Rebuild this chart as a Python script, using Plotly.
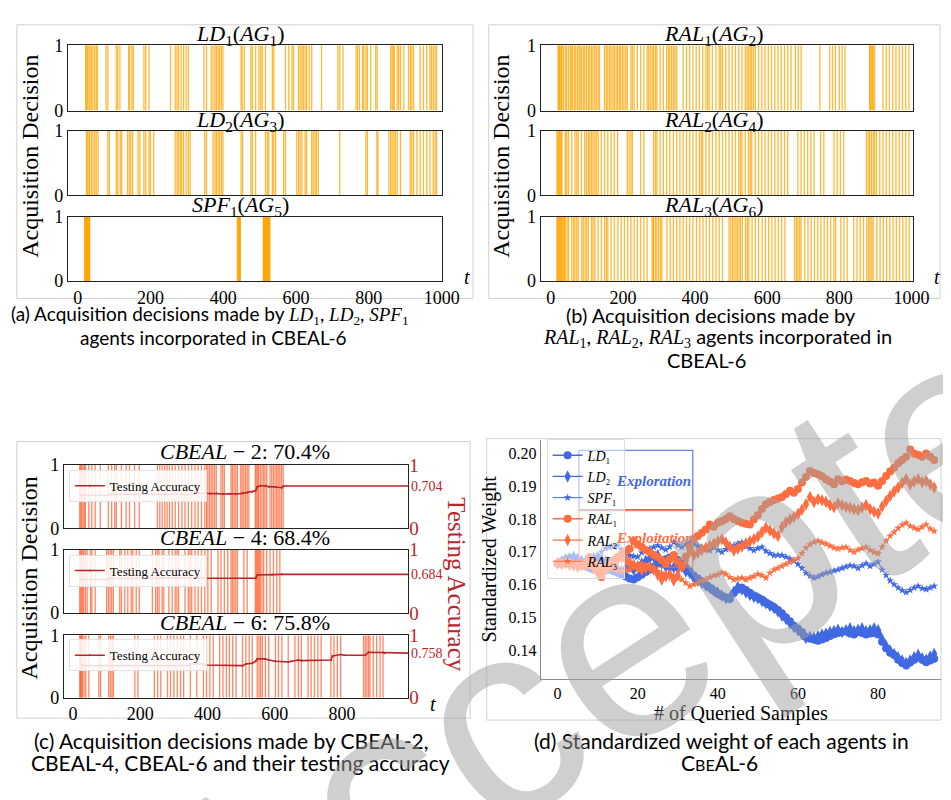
import plotly.graph_objects as go

W, H = 951, 800

# ---------------- data ----------------
# (a) acquisition decisions (t where decision == 1)
t_LD1 = [22, 24, 27, 31, 34, 38, 42, 47, 51, 54, 78, 83, 106, 110, 116, 140, 143, 149, 153, 182, 187, 196,
         255, 268, 273, 277, 284, 291, 298, 304, 347, 354, 367, 372, 377, 381, 386, 390, 395, 399, 449, 452, 458,
         476, 480, 489, 498, 503, 507, 516, 535, 539, 571, 580, 589, 593, 607, 611, 616, 620, 625, 629, 636, 643,
         670, 715, 720, 729, 765, 769, 774, 783, 786, 792, 796, 805, 819, 823, 860, 864, 867, 870, 878, 882, 887,
         896, 909, 914, 918, 923, 941, 950, 959, 968, 972, 977, 982, 986]
t_LD2 = [24, 27, 31, 33, 38, 42, 47, 51, 56, 83, 87, 106, 110, 117, 121, 137, 142, 146, 151, 166, 171, 182,
         187, 196, 200, 209, 268, 273, 277, 282, 286, 291, 298, 304, 309, 349, 354, 372, 377, 381, 386, 390, 395,
         399, 449, 453, 476, 480, 489, 516, 521, 525, 535, 539, 544, 566, 571, 602, 607, 611, 616, 625, 629, 643,
         647, 652, 656, 661, 720, 792, 796, 822, 825, 855, 860, 864, 869, 873, 878, 887, 914, 918, 923, 932, 941,
         950, 959, 968, 977, 982, 986]
t_SPF1 = [19, 20, 21, 22, 23, 24, 25, 26, 27, 28, 29, 30, 31, 32, 33,
          439, 440, 441, 442, 443, 444, 445, 446, 447,
          510, 511, 512, 513, 514, 515, 516, 517, 518, 519, 520, 521, 522, 523, 524, 525, 526, 527, 528]
# (b)
t_RAL1 = [20, 22, 24, 26, 29, 31, 35, 40, 44, 49, 54, 56, 60, 65, 69, 74, 78, 81, 85, 90, 94, 99, 104, 108,
          113, 117, 122, 126, 131, 135, 149, 154, 158, 163, 167, 172, 176, 181, 185, 190, 194, 199, 203, 208,
          212, 222, 226, 231, 240, 249, 258, 267, 271, 276, 281, 285, 290, 294, 303, 312, 321, 326, 330, 335,
          340, 344, 349, 367, 376, 385, 394, 403, 412, 421, 430, 435, 439, 448, 458, 467, 471, 476, 485, 494,
          503, 512, 521, 530, 539, 544, 548, 553, 557, 562, 567, 576, 585, 594, 603, 612, 621, 630, 639, 648,
          657, 666, 678, 686, 694, 746, 773, 781, 789, 800, 808, 816, 884, 886, 889, 892, 894, 898, 921, 930,
          939, 948, 957, 966, 975, 984, 993]
t_RAL2 = [17, 19, 22, 24, 26, 29, 31, 40, 44, 49, 58, 67, 72, 76, 85, 94, 99, 104, 108, 113, 117, 122, 126,
          131, 140, 149, 158, 167, 176, 185, 212, 217, 222, 226, 249, 258, 285, 290, 294, 303, 312, 321, 330,
          340, 349, 358, 367, 376, 385, 394, 403, 412, 417, 421, 430, 439, 448, 458, 467, 476, 485, 494, 503,
          512, 521, 526, 530, 539, 548, 553, 557, 567, 576, 585, 594, 603, 612, 621, 630, 639, 648, 657, 685,
          694, 703, 712, 721, 730, 748, 757, 785, 794, 803, 812, 875, 880, 884, 889, 894, 898, 903, 912, 921,
          930, 939, 948, 957, 966, 975, 984, 993]
t_RAL3 = [17, 19, 21, 23, 25, 27, 29, 31, 34, 36, 38, 40, 45, 49, 58, 63, 67, 72, 76, 86, 90, 95, 99, 104,
          113, 117, 122, 131, 140, 149, 154, 158, 167, 176, 186, 195, 204, 213, 222, 231, 240, 249, 258, 267,
          281, 284, 285, 290, 294, 299, 304, 308, 322, 331, 340, 349, 358, 367, 376, 385, 394, 404, 413, 422,
          431, 440, 449, 458, 467, 476, 494, 499, 504, 508, 513, 517, 522, 526, 531, 540, 545, 549, 558, 567,
          576, 586, 595, 604, 613, 622, 631, 640, 649, 676, 681, 685, 690, 694, 704, 713, 722, 731, 740, 749,
          758, 767, 776, 785, 790, 804, 813, 822, 840, 849, 858, 867, 876, 881, 885, 890, 894, 904, 913, 922,
          931, 940, 949, 958, 967, 976, 985, 994]
# (c) CBEAL decisions and testing accuracy
t_CB2 = [20, 23, 26, 30, 34, 37, 47, 56, 66, 81, 105, 115, 124, 129, 144, 158, 168, 183, 197, 251, 258, 265,
         273, 280, 287, 295, 304, 314, 324, 333, 343, 353, 363, 372, 382, 392, 397, 401, 406, 411, 416, 421,
         426, 440, 445, 450, 470, 474, 479, 484, 489, 499, 503, 508, 513, 518, 523, 542, 545, 549, 552, 557,
         562, 567, 571, 576, 586, 591, 596, 601, 606, 610, 615, 620, 625]
t_CB4 = [20, 23, 26, 29, 32, 37, 42, 52, 56, 66, 100, 105, 110, 115, 120, 139, 144, 154, 163, 173, 178, 188,
         197, 236, 246, 251, 256, 265, 270, 285, 295, 304, 309, 314, 333, 343, 348, 353, 363, 372, 382, 392,
         401, 411, 431, 440, 450, 460, 470, 474, 479, 484, 489, 508, 518, 542, 545, 548, 551, 554, 557, 562,
         567, 576, 586, 596, 606, 615]
t_CB6 = [20, 22, 24, 26, 28, 33, 38, 47, 77, 82, 106, 111, 116, 120, 184, 193, 242, 252, 261, 281, 290, 300,
         310, 320, 329, 349, 368, 388, 397, 407, 417, 436, 446, 456, 465, 475, 485, 504, 514, 524, 533, 548,
         553, 558, 563, 572, 582, 602, 611, 621, 640, 660, 670, 679, 699, 708, 718, 728, 738, 767, 776, 786,
         796, 864, 869, 874, 879, 883, 893, 903, 913, 922]
acc2_t = [20, 23, 106, 111, 252, 349, 368, 388, 407, 427, 446, 465, 485, 504, 519, 533, 543, 548, 558, 572,
          582, 602, 621, 626, 1000]
acc2_v = [0.541, 0.520, 0.525, 0.535, 0.535, 0.541, 0.556, 0.551, 0.545, 0.551, 0.541, 0.545, 0.541, 0.551,
          0.566, 0.571, 0.591, 0.657, 0.672, 0.672, 0.657, 0.652, 0.641, 0.667, 0.667]
acc4_t = [20, 23, 106, 111, 116, 183, 188, 373, 378, 388, 543, 548, 592, 622, 1000]
acc4_v = [0.538, 0.528, 0.528, 0.554, 0.544, 0.544, 0.554, 0.554, 0.559, 0.549, 0.549, 0.600, 0.605, 0.610,
          0.610]
acc6_t = [20, 28, 344, 349, 388, 393, 504, 514, 533, 543, 548, 572, 582, 602, 640, 650, 670, 679, 767, 772,
          796, 806, 869, 879, 922, 927, 1000]
acc6_v = [0.540, 0.514, 0.514, 0.541, 0.541, 0.524, 0.514, 0.541, 0.551, 0.584, 0.622, 0.622, 0.605, 0.584,
          0.573, 0.584, 0.605, 0.595, 0.605, 0.670, 0.692, 0.681, 0.681, 0.730, 0.724, 0.714, 0.714]
cbeal_names = ["2", "4", "6"]
cbeal_final_acc = ["70.4%", "68.4%", "75.8%"]
cbeal_final_val = ["0.704", "0.684", "0.758"]

# (d) standardized weights vs # of queried samples
n_q = list(range(95))
w_LD1 = [.1664, .1670, .1676, .1679, .1672, .1664, .1660, .1655, .1650, .1645, .1642, .1640, .1643, .1645, .1640,
         .1636, .1630, .1624, .1618, .1615, .1622, .1630, .1638, .1645, .1654, .1665, .1674, .1677, .1682, .1689,
         .1675, .1664, .1652, .1640, .1627, .1618, .1610, .1600, .1590, .1581, .1572, .1565, .1560, .1556, .1574,
         .1585, .1590, .1583, .1575, .1566, .1560, .1554, .1545, .1538, .1531, .1522, .1512, .1500, .1488, .1474,
         .1466, .1455, .1440, .1435, .1432, .1428, .1432, .1437, .1443, .1448, .1452, .1455, .1457, .1450, .1447,
         .1455, .1452, .1447, .1450, .1452, .1447, .1425, .1405, .1392, .1385, .1370, .1360, .1353, .1362, .1370,
         .1378, .1370, .1363, .1368, .1373]
w_LD2 = [.1664, .1670, .1676, .1680, .1684, .1678, .1672, .1669, .1676, .1680, .1684, .1676, .1670, .1664, .1652,
         .1645, .1640, .1647, .1654, .1645, .1655, .1664, .1672, .1679, .1685, .1689, .1664, .1655, .1650, .1652,
         .1648, .1654, .1640, .1635, .1620, .1612, .1605, .1597, .1590, .1582, .1575, .1566, .1558, .1560, .1578,
         .1592, .1585, .1576, .1568, .1562, .1558, .1550, .1543, .1535, .1528, .1518, .1505, .1495, .1482, .1470,
         .1460, .1448, .1437, .1440, .1437, .1442, .1447, .1450, .1455, .1458, .1462, .1455, .1460, .1466, .1458,
         .1462, .1466, .1457, .1460, .1466, .1460, .1432, .1412, .1398, .1388, .1377, .1368, .1360, .1368, .1378,
         .1385, .1375, .1370, .1380, .1388]
w_SPF1 = [.1664, .1664, .1666, .1663, .1665, .1662, .1664, .1660, .1658, .1664, .1685, .1700, .1710, .1714, .1717,
          .1719, .1706, .1695, .1689, .1686, .1684, .1697, .1704, .1709, .1714, .1719, .1712, .1706, .1715, .1729,
          .1720, .1714, .1722, .1729, .1724, .1718, .1714, .1708, .1704, .1714, .1705, .1699, .1707, .1712, .1719,
          .1725, .1729, .1716, .1710, .1704, .1710, .1714, .1702, .1695, .1689, .1690, .1689, .1684, .1678, .1672,
          .1662, .1650, .1635, .1626, .1620, .1624, .1630, .1635, .1638, .1642, .1645, .1650, .1654, .1658, .1656,
          .1650, .1658, .1664, .1656, .1662, .1669, .1645, .1628, .1612, .1600, .1590, .1582, .1576, .1583, .1590,
          .1595, .1588, .1585, .1590, .1595]
w_RAL1 = [.1664, .1667, .1664, .1666, .1662, .1659, .1655, .1660, .1684, .1665, .1645, .1623, .1645, .1664, .1675,
          .1684, .1693, .1701, .1709, .1733, .1722, .1714, .1705, .1699, .1690, .1684, .1674, .1664, .1677, .1689,
          .1670, .1654, .1685, .1714, .1738, .1748, .1758, .1768, .1783, .1776, .1788, .1793, .1800, .1808, .1800,
          .1794, .1788, .1785, .1783, .1798, .1812, .1830, .1845, .1852, .1858, .1862, .1867, .1876, .1886, .1880,
          .1891, .1911, .1928, .1946, .1940, .1936, .1930, .1921, .1914, .1906, .1921, .1915, .1920, .1916, .1910,
          .1906, .1912, .1916, .1908, .1911, .1901, .1916, .1931, .1945, .1956, .1970, .1980, .1990, .2012, .2000,
          .1995, .1990, .2000, .1990, .1980]
w_RAL2 = [.1664, .1662, .1665, .1660, .1657, .1654, .1660, .1665, .1664, .1650, .1635, .1645, .1652, .1659, .1668,
          .1676, .1684, .1675, .1668, .1660, .1652, .1645, .1650, .1654, .1645, .1630, .1615, .1625, .1630, .1612,
          .1628, .1655, .1672, .1704, .1689, .1697, .1705, .1712, .1718, .1724, .1732, .1738, .1728, .1715, .1704,
          .1710, .1716, .1726, .1732, .1738, .1746, .1760, .1773, .1765, .1756, .1748, .1775, .1790, .1798, .1806,
          .1815, .1828, .1845, .1867, .1852, .1860, .1857, .1852, .1842, .1836, .1847, .1842, .1837, .1834, .1830,
          .1827, .1835, .1842, .1830, .1822, .1817, .1838, .1855, .1870, .1884, .1896, .1910, .1921, .1906, .1914,
          .1921, .1912, .1916, .1905, .1896]
w_RAL3 = [.1664, .1664, .1662, .1665, .1663, .1664, .1660, .1657, .1654, .1658, .1652, .1656, .1650, .1654, .1647,
          .1642, .1640, .1643, .1645, .1652, .1660, .1664, .1658, .1654, .1645, .1640, .1635, .1632, .1630, .1626,
          .1620, .1615, .1605, .1595, .1600, .1605, .1612, .1615, .1622, .1627, .1630, .1636, .1632, .1622, .1615,
          .1618, .1620, .1615, .1620, .1625, .1632, .1628, .1620, .1635, .1645, .1650, .1656, .1662, .1668, .1674,
          .1680, .1695, .1712, .1722, .1729, .1733, .1728, .1724, .1718, .1712, .1709, .1712, .1714, .1705, .1699,
          .1706, .1710, .1714, .1705, .1699, .1694, .1715, .1733, .1748, .1760, .1772, .1782, .1788, .1778, .1773,
          .1768, .1776, .1783, .1770, .1763]
d_xticks = [0, 20, 40, 60, 80]
d_yticks = [0.14, 0.15, 0.16, 0.17, 0.18, 0.19, 0.20]

# ---------------- helpers ----------------
def dx(a, b):
    return [a / W, b / W]

def dy(top, bottom):
    return [1 - bottom / H, 1 - top / H]

def px(x):
    return x / W

def py(y):
    return 1 - y / H

def vl(ts):
    xs, ys = [], []
    for t in ts:
        xs += [t, t, None]
        ys += [0, 1, None]
    return xs, ys

SERIF = "Liberation Serif"
ORANGE = "rgba(255,165,0,0.78)"
REDLINE = "rgba(255,90,40,0.72)"
ACC = "#B8262B"
BLUE = "rgb(65,105,225)"
ORG = "rgb(255,110,64)"

fig = go.Figure()
layout = dict(width=W, height=H, margin=dict(l=0, r=0, t=0, b=0),
              paper_bgcolor="white", plot_bgcolor="white", showlegend=True,
              font=dict(family=SERIF, color="black"))
annotations = []
shapes = []


def note(text, x, y, size, color="black", family=SERIF, angle=0, xanchor="center", yref="paper", **kw):
    annotations.append(dict(text=text, x=x, y=y, xref="paper", yref=yref, showarrow=False,
                            xanchor=xanchor, yanchor="middle", textangle=angle,
                            font=dict(family=family, size=size, color=color), **kw))


box_axis = dict(showline=True, mirror=True, linecolor="#222", linewidth=1.2, ticks="",
                showgrid=False, zeroline=False, tickfont=dict(family=SERIF, size=18))

# panel frames
for (x0, y0, x1, y1) in [(9, 7, 474, 288), (490, 7, 950, 288), (9, 435, 471, 719), (488, 432, 951, 721)]:
    shapes.append(dict(type="rect", xref="paper", yref="paper", x0=px(x0), x1=px(x1), y0=py(y1), y1=py(y0),
                       line=dict(color="#d0d0d0", width=1), layer="below"))


def sub(n, k):
    return "<i>%s</i><sub>%s</sub>" % (n, k)


def msub(n, k):
    return "<span style='font-family:Liberation Serif'><i>%s</i><sub>%s</sub></span>" % (n, k)


# ---- (a) and (b) ----
ab_rows = [(28, 95), (116, 182), (204, 270)]
ab_title_y = [17, 106, 193]
panels = [
    (dict(x=(61, 442), rng=[-27, 1000], tx=237, lab_x=23, t_x=468),
     [(t_LD1, sub("LD", 1) + "(" + sub("AG", 1) + ")"),
      (t_LD2, sub("LD", 2) + "(" + sub("AG", 3) + ")"),
      (t_SPF1, sub("SPF", 1) + "(" + sub("AG", 5) + ")")]),
    (dict(x=(543, 922), rng=[-28, 1003], tx=720, lab_x=503, t_x=947),
     [(t_RAL1, sub("RAL", 1) + "(" + sub("AG", 2) + ")"),
      (t_RAL2, sub("RAL", 2) + "(" + sub("AG", 4) + ")"),
      (t_RAL3, sub("RAL", 3) + "(" + sub("AG", 6) + ")")]),
]
ax = 0
for cfg, rows in panels:
    for r, (ts, title) in enumerate(rows):
        ax += 1
        xs, ys = vl(ts)
        fig.add_trace(go.Scatter(x=xs, y=ys, mode="lines", line=dict(color=ORANGE, width=1.3),
                                 xaxis="x%d" % ax, yaxis="y%d" % ax, showlegend=False, hoverinfo="skip"))
        layout["xaxis%d" % ax] = dict(box_axis, domain=dx(*cfg["x"]), anchor="y%d" % ax, range=cfg["rng"],
                                      tickvals=[0, 200, 400, 600, 800, 1000], showticklabels=(r == 2))
        layout["yaxis%d" % ax] = dict(box_axis, domain=dy(*ab_rows[r]), anchor="x%d" % ax, range=[0, 1],
                                      tickvals=[0, 1])
        note(title, px(cfg["tx"]), py(ab_title_y[r]), 22)
    note("Acquisition Decision", px(cfg["lab_x"]), py(142), 24, angle=-90)
    note("<i>t</i>", px(cfg["t_x"]), py(266), 20)

# ---- (c) ----
c_rows = [(459, 524), (546, 611), (634, 698)]
c_title_y = [445, 534, 621]
c_leg_y = [464, 551, 638]
c_dec = [t_CB2, t_CB4, t_CB6]
c_acc = [(acc2_t, acc2_v), (acc4_t, acc4_v), (acc6_t, acc6_v)]
for r in range(3):
    ax += 1
    a2 = ax + 10
    xs, ys = vl(c_dec[r])
    fig.add_trace(go.Scatter(x=xs, y=ys, mode="lines", line=dict(color=REDLINE, width=1.3),
                             xaxis="x%d" % ax, yaxis="y%d" % ax, showlegend=False, hoverinfo="skip"))
    at, av = c_acc[r]
    leg = "legend%d" % (r + 2)
    fig.add_trace(go.Scatter(x=at, y=av, mode="lines+markers", name="Testing Accuracy",
                             line=dict(color=ACC, width=1.6), marker=dict(size=2, color=ACC),
                             xaxis="x%d" % ax, yaxis="y%d" % a2, legend=leg, hoverinfo="skip"))
    layout["xaxis%d" % ax] = dict(box_axis, domain=dx(57, 408), anchor="y%d" % ax, range=[-27, 997],
                                  tickvals=[0, 200, 400, 600, 800, 1000], showticklabels=(r == 2))
    layout["yaxis%d" % ax] = dict(box_axis, domain=dy(*c_rows[r]), anchor="x%d" % ax, range=[0, 1],
                                  tickvals=[0, 1])
    layout["yaxis%d" % a2] = dict(overlaying="y%d" % ax, side="right", anchor="x%d" % ax, range=[0, 1],
                                  tickvals=[0, 1], showgrid=False, zeroline=False, showline=False, ticks="",
                                  tickfont=dict(family=SERIF, size=19, color=ACC))
    layout[leg] = dict(x=px(62), y=py(c_leg_y[r]), xanchor="left", yanchor="top",
                       bgcolor="rgba(255,255,255,0.85)", bordercolor="#e2e2e2", borderwidth=1,
                       font=dict(family=SERIF, size=13), itemwidth=30, tracegroupgap=0)
    note("<i>CBEAL</i> − %s: %s" % (cbeal_names[r], cbeal_final_acc[r]), px(242), py(c_title_y[r]), 22)
    note(cbeal_final_val[r], px(409), av[-1], 14, color=ACC, xanchor="left", yref="y%d" % a2)
note("Acquisition Decision", px(21), py(575), 24, angle=-90)
note("Testing Accuracy", px(457), py(582), 25, color=ACC, angle=90)
note("<i>t</i>", px(433), py(705), 20)

# ---- (d) ----
ax += 1
d_series = [
    (w_LD1, "<i>LD</i>\u2081", BLUE, "circle", 8, 1.5),
    (w_LD2, "<i>LD</i>\u2082", BLUE, "diamond-tall", 9, 1.3),
    (w_SPF1, "<i>SPF</i>\u2081", BLUE, "star", 6, 1.0),
    (w_RAL1, "<i>RAL</i>\u2081", ORG, "circle", 8, 1.5),
    (w_RAL2, "<i>RAL</i>\u2082", ORG, "diamond-tall", 9, 1.3),
    (w_RAL3, "<i>RAL</i>\u2083", ORG, "star", 6, 1.0),
]
for w, name, col, sym, ms, lw in d_series:
    fig.add_trace(go.Scatter(x=n_q, y=w, mode="lines+markers", name=name,
                             line=dict(color=col, width=lw), marker=dict(symbol=sym, size=ms, color=col),
                             xaxis="x%d" % ax, yaxis="y%d" % ax, legend="legend", hoverinfo="skip"))
layout["xaxis%d" % ax] = dict(domain=dx(543, 951), anchor="y%d" % ax, range=[-4.2, 95.7], tickvals=d_xticks,
                              showline=True, linecolor="#8a8a8a", linewidth=1.2, ticks="", showgrid=False,
                              zeroline=False, tickfont=dict(family=SERIF, size=16),
                              title=dict(text="# of Queried Samples", font=dict(family=SERIF, size=20),
                                         standoff=0))
layout["yaxis%d" % ax] = dict(domain=dy(433, 679), anchor="x%d" % ax, range=[0.1311, 0.2042],
                              tickvals=d_yticks, tickformat=".2f", showline=True, linecolor="#8a8a8a",
                              linewidth=1.2, ticks="", showgrid=False, zeroline=False,
                              tickfont=dict(family=SERIF, size=16),
                              title=dict(text="Standardized Weight", font=dict(family=SERIF, size=20),
                                         standoff=6))
layout["legend"] = dict(x=px(549), y=py(432), xanchor="left", yanchor="top", bgcolor="rgba(255,255,255,0.55)",
                        bordercolor="#dddddd", borderwidth=1, font=dict(family=SERIF, size=14),
                        itemwidth=30, tracegroupgap=0)
shapes.append(dict(type="rect", xref="paper", yref="paper", x0=px(582), x1=px(698), y0=py(505), y1=py(444),
                   line=dict(color="rgba(65,105,225,0.8)", width=1.3)))
shapes.append(dict(type="rect", xref="paper", yref="paper", x0=px(582), x1=px(698), y0=py(564), y1=py(506),
                   line=dict(color="rgba(255,110,64,0.8)", width=1.3)))
note("<b><i>Exploration</i></b>", px(658), py(475), 15, color=BLUE)
note("<b><i>Exploitation</i></b>", px(659), py(534), 15, color=ORG)

# ---- captions (one annotation per line) ----
caption_lines = [
    ("(a) Acquisition decisions made by " + msub("LD", 1) + ", " + msub("LD", 2) + ", " + msub("SPF", 1),
     206, 305, 19),
    ("agents incorporated in CBEAL-6", 209, 328, 19),
    ("(b) Acquisition decisions made by", 717, 305, 20),
    (msub("RAL", 1) + ", " + msub("RAL", 2) + ", " + msub("RAL", 3) + " agents incorporated in", 723, 328, 20),
    ("CBEAL-6", 712, 351, 20),
    ("(c) Acquisition decisions made by CBEAL-2,", 228, 742, 21),
    ("CBEAL-4, CBEAL-6 and their testing accuracy", 237, 765, 21),
    ("(d) Standardized weight of each agents in", 727, 742, 21),
    ("C<span style='font-size:16px'>BE</span>AL-6", 725, 765, 21),
]
for text, cx, cy, fs in caption_lines:
    note(text, px(cx), py(cy), fs, family="Lato")

# ---- watermark ----
note("Accepted", px(658), py(619), 278, color="rgba(160,160,160,0.5)", family="Liberation Sans", angle=-33)

layout["annotations"] = annotations
layout["shapes"] = shapes
fig.update_layout(**layout)
fig.write_html("out.html")
